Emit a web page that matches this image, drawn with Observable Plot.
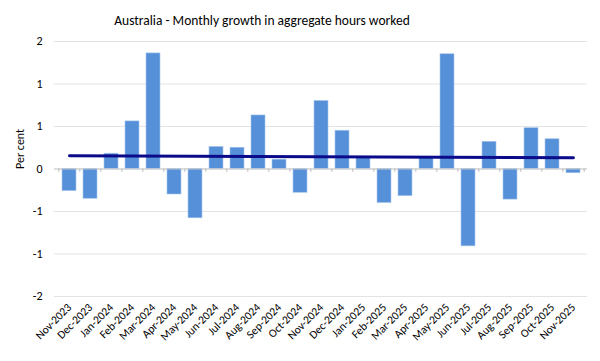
<!DOCTYPE html>
<html>
<head>
<meta charset="utf-8">
<script src="https://cdn.jsdelivr.net/npm/d3@7"></script>
<script src="https://cdn.jsdelivr.net/npm/@observablehq/plot@0.6"></script>
<style>
  html, body { margin: 0; padding: 0; background: #fff; }
  #chart { width: 600px; height: 361px; }
</style>
</head>
<body>
<div id="chart"></div>
<script>
const title = "Australia - Monthly growth in aggregate hours worked";
const yLabel = "Per cent";
const months = ["Nov-2023","Dec-2023","Jan-2024","Feb-2024","Mar-2024","Apr-2024","May-2024","Jun-2024","Jul-2024","Aug-2024","Sep-2024","Oct-2024","Nov-2024","Dec-2024","Jan-2025","Feb-2025","Mar-2025","Apr-2025","May-2025","Jun-2025","Jul-2025","Aug-2025","Sep-2025","Oct-2025","Nov-2025"];
const growth = [-0.26,-0.35,0.18,0.56,1.36,-0.30,-0.58,0.26,0.25,0.63,0.11,-0.28,0.80,0.45,0.14,-0.40,-0.32,0.14,1.35,-0.91,0.32,-0.36,0.48,0.35,-0.05];
const trendMonths = ["Nov-2023","Nov-2025"];
const trendValues = [0.157, 0.133];
const yTicks = [-1.5,-1,-0.5,0,0.5,1,1.5];

const bars = months.map((m, i) => ({month: m, value: growth[i]}));
const trend = trendMonths.map((m, i) => ({month: m, value: trendValues[i]}));

const W = 600, H = 361, mL = 54, mR = 13, mT = 41, mB = 65;
const step = (W - mL - mR) / months.length;
const font = "Carlito, Lato, 'Liberation Sans', sans-serif";

const chart = Plot.plot({
  width: W, height: H,
  marginLeft: mL, marginRight: mR, marginTop: mT, marginBottom: mB,
  style: {fontFamily: font, fontSize: "11px", color: "#000", background: "#fff"},
  x: {domain: months, paddingInner: 0.34, paddingOuter: 0.17, label: null},
  y: {domain: [-1.5, 1.5], label: null},
  marks: [
    Plot.gridY(yTicks, {stroke: "#e3e3e3", strokeOpacity: 1, strokeWidth: 1}),
    Plot.axisY(yTicks, {tickSize: 0, tickPadding: 12, fontSize: 12,
      tickFormat: d => (d < 0 ? "-" : "") + Math.round(Math.abs(d))}),
    Plot.axisX({tickRotate: -45, tickSize: 0, tickPadding: 9, fontSize: 11.5}),
    Plot.barY(bars, {x: "month", y: "value", fill: "#5590d8", stroke: "#a9c5ee", strokeWidth: 0.6}),
    Plot.ruleY([0], {stroke: "#c8c8c8", strokeWidth: 1}),
    Plot.ruleX(months, {x: d => d, y1: 0, y2: -0.04, dx: -step / 2, stroke: "#bdbdbd"}),
    Plot.ruleX([months[months.length - 1]], {x: d => d, y1: 0, y2: -0.04, dx: step / 2, stroke: "#bdbdbd"}),
    Plot.line(trend, {x: "month", y: "value", stroke: "#0a0a8a", strokeWidth: 3}),
    Plot.text([yLabel], {frameAnchor: "left", rotate: -90, dx: -34, fontSize: 12}),
    Plot.text([title], {frameAnchor: "top", dy: -26, dx: -59, fontSize: 13.5})
  ]
});
document.getElementById("chart").appendChild(chart);
</script>
</body>
</html>
